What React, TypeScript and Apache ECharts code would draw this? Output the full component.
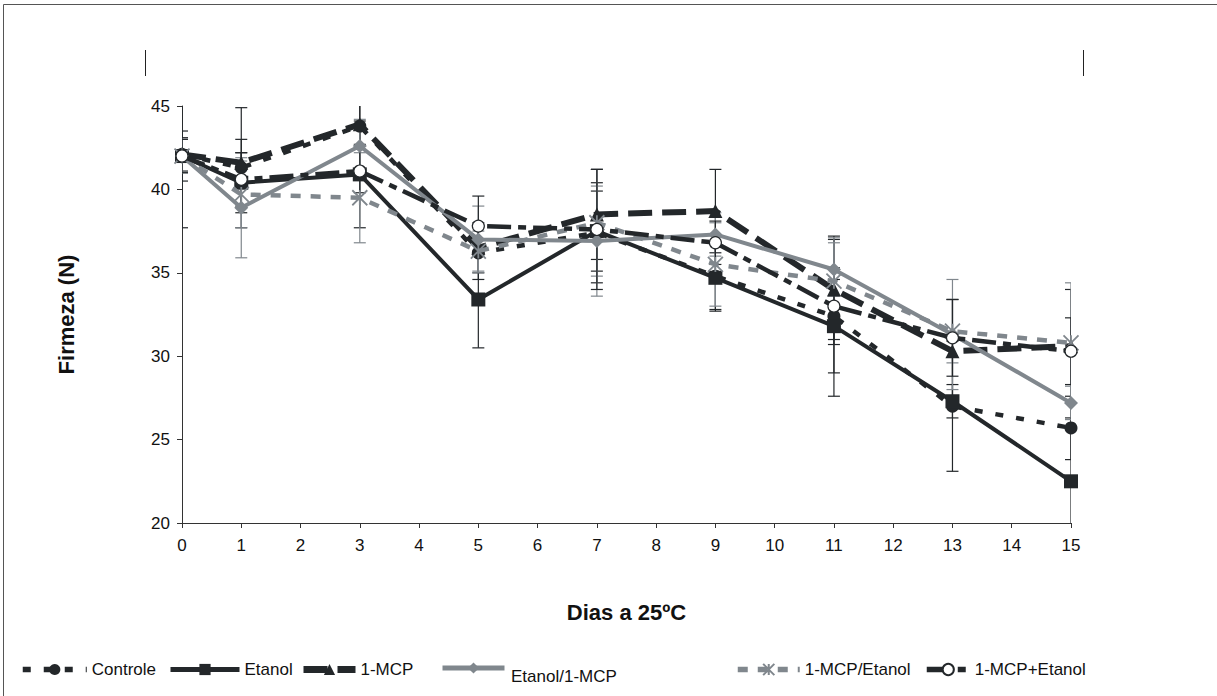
import React, { useEffect, useRef } from "react";
import * as echarts from "echarts";

const days = [0, 1, 3, 5, 7, 9, 11, 13, 15];
const xTicks = [0, 15, 1];
const yTicks = [20, 45, 5];

const controle = [42.1, 41.3, 43.8, 36.2, 37.4, 34.8, 32.4, 27.0, 25.7];
const controleErr = [4.4, 3.6, 1.4, 1.6, 3.0, 2.0, 4.8, 3.9, 1.9];
const etanol = [42.0, 40.4, 40.9, 33.4, 37.5, 34.7, 31.8, 27.3, 22.5];
const etanolErr = [1.5, 1.8, 3.2, 2.9, 2.4, 2.0, 2.8, 1.0, 3.8];
const mcp = [42.1, 41.6, 43.9, 36.5, 38.5, 38.7, 34.0, 30.3, 30.6];
const mcpErr = [1.0, 1.4, 1.2, 1.5, 2.7, 2.5, 3.0, 3.1, 3.4];
const etanolMcp = [42.0, 38.9, 42.6, 37.0, 36.9, 37.3, 35.2, 31.3, 27.2];
const etanolMcpErr = [1.0, 3.0, 1.6, 2.0, 3.3, 1.3, 1.6, 3.3, 1.0];
const mcpEtanol = [42.0, 39.7, 39.5, 36.3, 38.0, 35.5, 34.5, 31.5, 30.8];
const mcpEtanolErr = [1.0, 2.0, 2.7, 1.2, 3.2, 2.5, 2.6, 1.9, 3.6];
const mcpPlusEtanol = [42.0, 40.6, 41.1, 37.8, 37.6, 36.8, 33.0, 31.1, 30.3];
const mcpPlusEtanolErr = [1.0, 1.6, 1.3, 1.8, 3.6, 1.3, 2.3, 2.3, 2.0];

const names = ["Controle", "Etanol", "1-MCP", "Etanol/1-MCP", "1-MCP/Etanol", "1-MCP+Etanol"];

const BLACK = "#23272a";
const GRAY = "#80878d";
const FONT = "Liberation Sans";

export default function App() {
  const ref = useRef<HTMLDivElement>(null);
  useEffect(() => {
    if (!ref.current) return;
    const chart = echarts.init(ref.current, undefined, { renderer: "svg" });

    const defs = [
      { name: names[0], v: controle, e: controleErr, color: BLACK, width: 4.5, dash: [8, 13], symbol: "circle", size: 13, fill: BLACK },
      { name: names[1], v: etanol, e: etanolErr, color: BLACK, width: 4, dash: "solid", symbol: "rect", size: 14, fill: BLACK },
      { name: names[2], v: mcp, e: mcpErr, color: BLACK, width: 6, dash: [24, 10], symbol: "triangle", size: 14, fill: BLACK },
      { name: names[3], v: etanolMcp, e: etanolMcpErr, color: GRAY, width: 4, dash: "solid", symbol: "diamond", size: 14, fill: GRAY },
      { name: names[4], v: mcpEtanol, e: mcpEtanolErr, color: GRAY, width: 4.5, dash: [10, 10], symbol: "path://M0 0L10 10M10 0L0 10M5 0L5 10", size: 15, fill: GRAY },
      { name: names[5], v: mcpPlusEtanol, e: mcpPlusEtanolErr, color: BLACK, width: 4.5, dash: [24, 7, 8, 7], symbol: "circle", size: 12, fill: "#ffffff" },
    ];

    const errSeries = defs.map((d) => ({
      type: "custom",
      name: d.name + "-err",
      clip: true,
      z: 1,
      silent: true,
      data: days.map((x, i) => [x, d.v[i] - d.e[i], d.v[i] + d.e[i]]),
      encode: { x: 0, y: [1, 2] },
      renderItem: (params: any, api: any) => {
        const x = api.value(0);
        const lo = api.coord([x, api.value(1)]);
        const hi = api.coord([x, api.value(2)]);
        const w = 6;
        const st = { stroke: d.color, lineWidth: 1.2 };
        return {
          type: "group",
          children: [
            { type: "line", shape: { x1: lo[0], y1: lo[1], x2: hi[0], y2: hi[1] }, style: st },
            { type: "line", shape: { x1: lo[0] - w, y1: lo[1], x2: lo[0] + w, y2: lo[1] }, style: st },
            { type: "line", shape: { x1: hi[0] - w, y1: hi[1], x2: hi[0] + w, y2: hi[1] }, style: st },
          ],
        };
      },
    }));

    const lineSeries = defs.map((d, k) => ({
      type: "line",
      name: d.name,
      z: 3 + k,
      data: days.map((x, i) => [x, d.v[i]]),
      symbol: d.symbol,
      symbolSize: d.size,
      showSymbol: true,
      lineStyle: { color: d.color, width: d.width, type: d.dash as any },
      itemStyle: {
        color: d.fill,
        borderColor: d.color,
        borderWidth: d.name === "1-MCP+Etanol" ? 1.2 : d.name === "1-MCP/Etanol" ? 1.8 : 0,
      },
      emphasis: { disabled: true },
    }));

    const legendPos = [
      { left: 15, w: 64, hideText: false },
      { left: 163, w: 69, hideText: false },
      { left: 295, w: 52, hideText: false },
      { left: 435, w: 62, hideText: true },
      { left: 730, w: 62, hideText: false },
      { left: 919, w: 43, hideText: false },
    ];

    const legends = names.map((n, i) => ({
      data: [n],
      left: legendPos[i].left,
      top: 656,
      itemWidth: legendPos[i].w,
      itemHeight: 14,
      selectedMode: false,
      lineStyle: { width: defs[i].width + 1, type: defs[i].dash as any, color: defs[i].color },
      formatter: legendPos[i].hideText ? () => "" : undefined,
      textStyle: { fontFamily: FONT, fontSize: 17, color: "#111" },
    }));

    chart.setOption({
      animation: false,
      backgroundColor: "#ffffff",
      grid: { left: 182, top: 106, right: 146, bottom: 173, containLabel: false },
      legend: legends,
      xAxis: {
        type: "value",
        min: xTicks[0],
        max: xTicks[1],
        interval: xTicks[2],
        name: "Dias a 25ºC",
        nameLocation: "middle",
        nameGap: 78,
        nameTextStyle: { fontFamily: FONT, fontSize: 22, fontWeight: "bold", color: "#111" },
        axisLine: { show: true, lineStyle: { color: "#333", width: 1 } },
        axisTick: { show: true, length: 5, lineStyle: { color: "#333" } },
        axisLabel: { fontFamily: FONT, fontSize: 17, color: "#111", margin: 14 },
        splitLine: { show: false },
      },
      yAxis: {
        type: "value",
        min: yTicks[0],
        max: yTicks[1],
        interval: yTicks[2],
        name: "Firmeza (N)",
        nameLocation: "middle",
        nameGap: 105,
        nameRotate: 90,
        nameTextStyle: { fontFamily: FONT, fontSize: 22, fontWeight: "bold", color: "#111" },
        axisLine: { show: true, lineStyle: { color: "#333", width: 1 } },
        axisTick: { show: true, length: 5, lineStyle: { color: "#333" } },
        axisLabel: { fontFamily: FONT, fontSize: 17, color: "#111", margin: 12 },
        splitLine: { show: false },
      },
      graphic: [
        { type: "rect", shape: { x: 3.5, y: 4.5, width: 1240, height: 720 }, style: { fill: "none", stroke: "#555", lineWidth: 1 }, silent: true },
        { type: "line", shape: { x1: 145.5, y1: 50, x2: 145.5, y2: 76 }, style: { stroke: "#222", lineWidth: 1 }, silent: true },
        { type: "line", shape: { x1: 1083.5, y1: 50, x2: 1083.5, y2: 76 }, style: { stroke: "#222", lineWidth: 1 }, silent: true },
        {
          type: "text",
          x: 511,
          y: 676,
          silent: true,
          style: { text: names[3], fontFamily: FONT, fontSize: 17, fill: "#111", verticalAlign: "middle", align: "left" },
        },
      ],
      series: [...errSeries, ...lineSeries],
    });

    return () => chart.dispose();
  }, []);

  return (
    <div
      ref={ref}
      style={{ position: "fixed", left: 0, top: 0, width: 1217, height: 696, background: "#fff" }}
    />
  );
}
